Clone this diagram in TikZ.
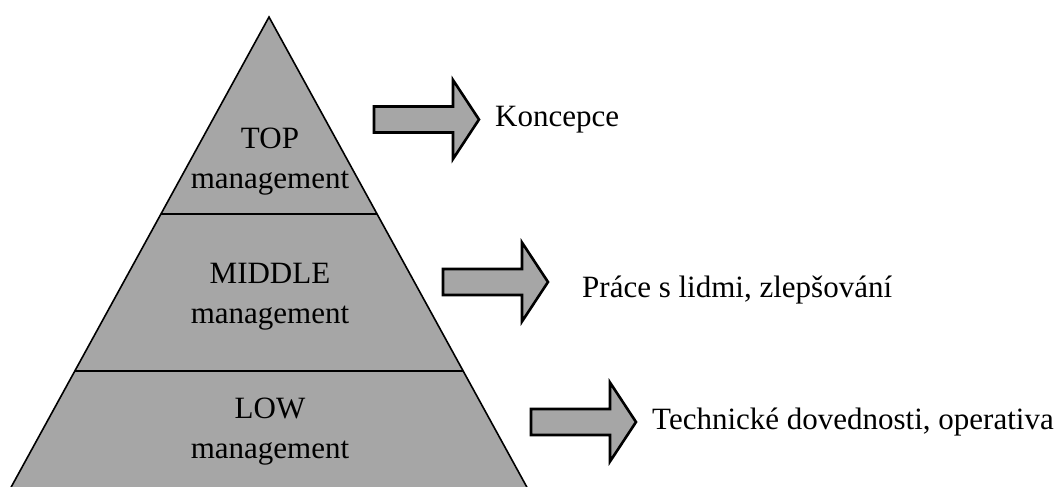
\documentclass[tikz,border=0pt]{standalone}
\usepackage{fontspec}
\setmainfont{Liberation Serif}
\usetikzlibrary{positioning}
\definecolor{pyrgray}{HTML}{A6A6A6}

\begin{document}
\begin{tikzpicture}[
    x=1pt, y=-1pt,
    font=\fontsize{31}{40}\selectfont,
    layer/.style={draw=black, line width=1.6pt, fill=pyrgray, line join=miter},
    divider/.style={draw=black, line width=1.6pt},
    lbl/.style={align=center, inner sep=0pt, anchor=base},
    note/.style={inner sep=0pt, anchor=base west},
    bigarrow/.pic={\draw[line width=2.6pt, fill=pyrgray, line join=miter]
        (1,-13) -- (80,-13) -- (80,-39.5) -- (106,0) -- (80,39.5) -- (80,13) -- (1,13) -- cycle;}
]
\useasboundingbox (0,0) rectangle (1061,487);
\begin{scope}
\clip (0,0) rectangle (1061,487);
% pyramid
\path[layer] (269,17) -- (546,522) -- (-8,522) -- cycle;
\draw[divider] (161,214) -- (377,214);
\draw[divider] (75,371) -- (463,371);
\end{scope}

% levels (base = last line)
\node[lbl] (toplbl) at (270,188) {TOP\\management};
\node[lbl] (midlbl) at (270,323) {MIDDLE\\management};
\node[lbl] (lowlbl) at (270,458) {LOW\\management};

% arrows
\pic (arrtop) at (373,119.5) {bigarrow};
\pic (arrmid) at (442,282) {bigarrow};
\pic (arrlow) at (530,422) {bigarrow};

% skills
\node[note] (koncepce) at (495,126) {Koncepce};
\node[note] (lide) at (582,297) {Práce s lidmi, zlepšování};
\node[note] (technika) at (652,429) {Technické dovednosti, operativa};
\end{tikzpicture}
\end{document}
